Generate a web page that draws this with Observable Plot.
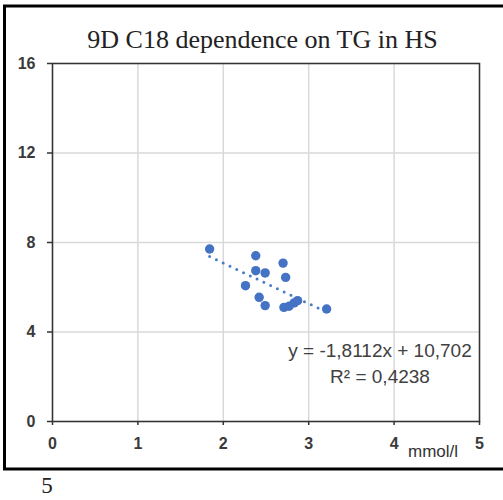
<!DOCTYPE html>
<html><head><meta charset="utf-8">
<script src="https://cdn.jsdelivr.net/npm/d3@7"></script>
<script src="https://cdn.jsdelivr.net/npm/@observablehq/plot@0.6"></script>
<style>body{margin:0;background:#fff}</style>
</head><body><div id="chart"></div>
<script>
// Data
const tg  = [1.84, 2.38, 2.70, 2.38, 2.49, 2.73, 2.26, 2.42, 2.49, 2.71, 2.77, 2.83, 2.87, 3.21];
const c18 = [7.71, 7.41, 7.08, 6.74, 6.64, 6.44, 6.07, 5.55, 5.18, 5.10, 5.15, 5.30, 5.40, 5.03];
const xTicks = [0, 1, 2, 3, 4, 5];
const yTicks = [0, 4, 8, 12, 16];
const trendSlope = -1.8112;
const trendIntercept = 10.702;
const titleText = "9D C18 dependence on TG in HS";
const equationText = "y = -1,8112x + 10,702";
const r2Text = "R² = 0,4238";
const xUnitText = "mmol/l";
const pageNumberText = "5";

const points = tg.map((x, i) => ({x, y: c18[i]}));
const trend = d3.extent(tg).map(x => ({x, y: trendSlope * x + trendIntercept}));

const chart = Plot.plot({
  width: 503, height: 500,
  marginLeft: 52, marginRight: 24, marginTop: 63, marginBottom: 79,
  style: {fontFamily: "'Liberation Sans', Arial, sans-serif", fontSize: "15px", color: "#333", background: "white"},
  x: {domain: [0, 5]},
  y: {domain: [0, 16]},
  marks: [
    Plot.gridX(xTicks, {stroke: "#d9d9d9", strokeOpacity: 1, strokeWidth: 1.5}),
    Plot.gridY(yTicks, {stroke: "#d9d9d9", strokeOpacity: 1, strokeWidth: 1.5}),
    Plot.axisX(xTicks, {tickSize: 4, tickPadding: 12, label: null, stroke: "#333", strokeWidth: 1.5, fill: "#3a3a3a", fontSize: 15, fontWeight: "bold"}),
    Plot.axisY(yTicks, {tickSize: 5, tickPadding: 12, label: null, stroke: "#333", strokeWidth: 1.5, fill: "#3a3a3a", fontSize: 15, fontWeight: "bold"}),
    Plot.frame({stroke: "#333", strokeWidth: 1.5}),
    Plot.line(trend, {x: "x", y: "y", stroke: "#4a7cc6", strokeWidth: 3, strokeDasharray: "0 7.5", strokeLinecap: "round"}),
    Plot.dot(points, {x: "x", y: "y", r: 4.7, fill: "#4472C4"})
  ]
});
document.getElementById("chart").append(chart);

const svg = d3.select(chart);
svg.selectAll("g[aria-label$='tick label'] text").style("font-size", "16px");
svg.append("rect").attr("x", 4.5).attr("y", 6).attr("width", 520).attr("height", 463)
  .attr("fill", "none").attr("stroke", "#000").attr("stroke-width", 3);
svg.append("text").text(titleText).attr("x", 262.5).attr("y", 48)
  .attr("text-anchor", "middle").attr("font-family", "'Liberation Serif', serif").attr("font-size", 26).attr("fill", "#222");
svg.append("text").text(equationText).attr("x", 380).attr("y", 357)
  .attr("text-anchor", "middle").attr("font-size", 19).attr("fill", "#404040");
svg.append("text").text(r2Text).attr("x", 380).attr("y", 383)
  .attr("text-anchor", "middle").attr("font-size", 19).attr("fill", "#404040");
svg.append("text").text(xUnitText).attr("x", 408).attr("y", 457)
  .attr("text-anchor", "start").attr("font-size", 17).attr("fill", "#333");
svg.append("text").text(pageNumberText).attr("x", 47).attr("y", 493)
  .attr("text-anchor", "middle").attr("font-family", "'Liberation Serif', serif").attr("font-size", 23).attr("fill", "#222");
</script>
</body></html>
